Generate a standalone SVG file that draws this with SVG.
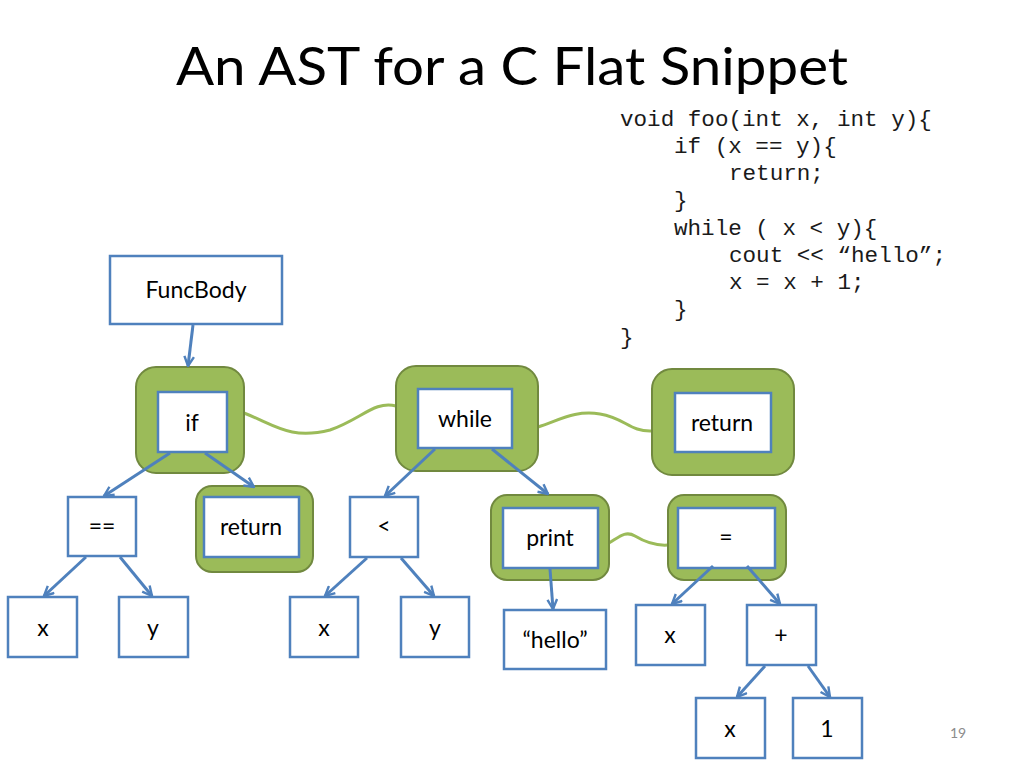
<svg xmlns="http://www.w3.org/2000/svg" width="1024" height="768" viewBox="0 0 1024 768">
<defs>
<marker id="ah" viewBox="0 0 10 10" refX="9" refY="5" markerWidth="4" markerHeight="4" orient="auto" markerUnits="strokeWidth">
<path d="M1,1 L9,5 L1,9" fill="none" stroke="#4F81BD" stroke-width="2"/>
</marker>
<style>
.box{fill:#fff;stroke:#4F81BD;stroke-width:2.5}
.grn{fill:#9BBB59;stroke:#71893F;stroke-width:2}
.lbl{font-family:Lato,"Open Sans",sans-serif;font-size:23px;fill:#000;text-anchor:middle}
.code{font-family:"Liberation Mono",monospace;font-size:22.6px;fill:#1a1a1a}
.arr{fill:none;stroke:#4F81BD;stroke-width:3;marker-end:url(#ah)}
.lnk{fill:none;stroke:#9BBB59;stroke-width:3}
</style>
</defs>
<rect width="1024" height="768" fill="#fff"/>
<text x="176" y="85" font-family="Lato,'Open Sans',sans-serif" font-size="52" textLength="672" lengthAdjust="spacingAndGlyphs">An AST for a C Flat Snippet</text>
<g id="code" class="code">
<text x="620" y="126">void foo(int x, int y){</text>
<text x="674" y="153">if (x == y){</text>
<text x="729" y="180">return;</text>
<text x="674" y="207">}</text>
<text x="674" y="235">while ( x &lt; y){</text>
<text x="729" y="262">cout &lt;&lt; “hello”;</text>
<text x="729" y="289">x = x + 1;</text>
<text x="674" y="316">}</text>
<text x="620" y="344">}</text>
</g>
<g id="links">
<path class="lnk" d="M244,413 C275,425 290,440 330,430 C360,420 375,400 396,406"/>
<path class="lnk" d="M538,427 C560,420 575,410 600,414 C625,418 630,432 652,431"/>
<path class="lnk" d="M609,543 C618,538 625,530 635,536 C645,542 655,546 668,545"/>
</g>
<g id="n-funcbody"><rect class="box" x="110" y="256" width="172" height="68"/><text class="lbl" x="196" y="298">FuncBody</text></g>
<g id="n-if"><rect class="grn" x="136" y="367" width="108" height="106" rx="20"/><rect class="box" x="158" y="392" width="69" height="60"/><text class="lbl" x="192" y="431">if</text></g>
<g id="n-while"><rect class="grn" x="396" y="366" width="142" height="105" rx="20"/><rect class="box" x="418" y="389" width="94" height="59"/><text class="lbl" x="465" y="427">while</text></g>
<g id="n-return1"><rect class="grn" x="652" y="369" width="142" height="106" rx="20"/><rect class="box" x="675" y="393" width="96" height="59"/><text class="lbl" x="722" y="431">return</text></g>
<g id="n-eq"><rect class="box" x="68" y="497" width="68" height="59"/><text class="lbl" x="102" y="534">==</text></g>
<g id="n-return2"><rect class="grn" x="196" y="486" width="117" height="86" rx="16"/><rect class="box" x="204" y="497" width="95" height="60"/><text class="lbl" x="251" y="535">return</text></g>
<g id="n-lt"><rect class="box" x="350" y="497" width="68" height="60"/><text class="lbl" x="384" y="534">&lt;</text></g>
<g id="n-print"><rect class="grn" x="491" y="495" width="118" height="85" rx="16"/><rect class="box" x="503" y="508" width="95" height="60"/><text class="lbl" x="550" y="546">print</text></g>
<g id="n-assign"><rect class="grn" x="668" y="495" width="118" height="85" rx="16"/><rect class="box" x="678" y="508" width="97" height="60"/><text class="lbl" x="726" y="545">=</text></g>
<g id="n-x1"><rect class="box" x="8" y="597" width="69" height="60"/><text class="lbl" x="43" y="636">x</text></g>
<g id="n-y1"><rect class="box" x="119" y="597" width="69" height="60"/><text class="lbl" x="153" y="636">y</text></g>
<g id="n-x2"><rect class="box" x="290" y="597" width="68" height="60"/><text class="lbl" x="324" y="636">x</text></g>
<g id="n-y2"><rect class="box" x="401" y="597" width="68" height="60"/><text class="lbl" x="435" y="636">y</text></g>
<g id="n-hello"><rect class="box" x="504" y="610" width="102" height="59"/><text class="lbl" x="555" y="648">“hello”</text></g>
<g id="n-x3"><rect class="box" x="636" y="605" width="69" height="60"/><text class="lbl" x="670" y="643">x</text></g>
<g id="n-plus"><rect class="box" x="747" y="605" width="69" height="60"/><text class="lbl" x="781" y="643">+</text></g>
<g id="n-x4"><rect class="box" x="696" y="698" width="69" height="60"/><text class="lbl" x="730" y="737">x</text></g>
<g id="n-one"><rect class="box" x="793" y="698" width="69" height="60"/><text class="lbl" x="827" y="737">1</text></g>
<g id="connectors">
<line class="arr" x1="193" y1="325" x2="188" y2="366"/>
<line class="arr" x1="170" y1="453" x2="104" y2="496"/>
<line class="arr" x1="205" y1="453" x2="254" y2="487"/>
<line class="arr" x1="435" y1="449" x2="385" y2="496"/>
<line class="arr" x1="492" y1="449" x2="548" y2="494"/>
<line class="arr" x1="86" y1="557" x2="44" y2="596"/>
<line class="arr" x1="120" y1="557" x2="152" y2="596"/>
<line class="arr" x1="367" y1="558" x2="325" y2="596"/>
<line class="arr" x1="401" y1="558" x2="434" y2="596"/>
<line class="arr" x1="550" y1="569" x2="553" y2="609"/>
<line class="arr" x1="713" y1="566" x2="672" y2="604"/>
<line class="arr" x1="747" y1="566" x2="780" y2="604"/>
<line class="arr" x1="765" y1="666" x2="737" y2="697"/>
<line class="arr" x1="808" y1="666" x2="830" y2="697"/>
</g>
<text x="958" y="738" font-family="Lato,sans-serif" font-size="14" fill="#8C8C8C" text-anchor="middle">19</text>
</svg>
